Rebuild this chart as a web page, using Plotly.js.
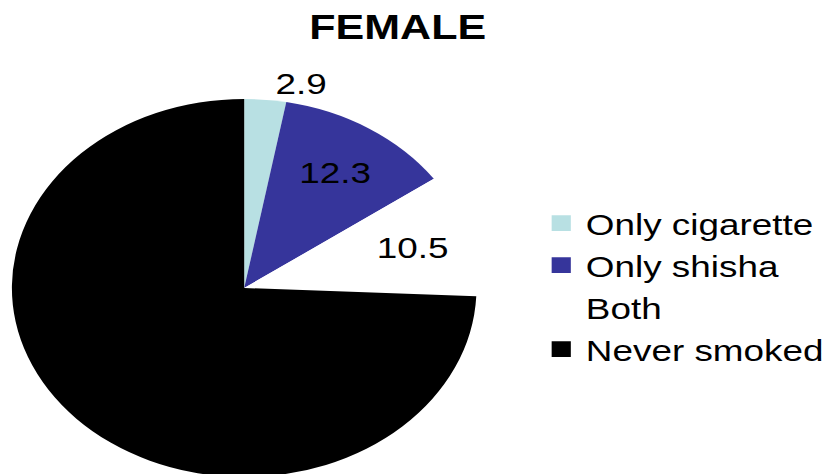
<!DOCTYPE html>
<html><head><meta charset="utf-8">
<script src="https://cdn.plot.ly/plotly-3.0.1.min.js"></script>
<style>
html,body{margin:0;padding:0;overflow:hidden;background:#fff;width:832px;height:474px;}
#wrap{width:832px;height:474px;overflow:hidden;position:relative;}
#chart{width:677px;height:490px;transform:scaleX(1.229);transform-origin:0 0;}
#chart .legend .legendpoints path{transform:translate(20px,0px) scale(1.3);}
</style></head><body><div id="wrap"><div id="chart"></div></div>
<script>
const categories = ['Only cigarette', 'Only shisha', 'Both', 'Never smoked'];
const values = [2.9, 12.3, 10.5, 74.3];
const labelText = ['2.9', '12.3', '10.5', ''];
const colors = ['#b8e0e3', '#36359b', '#ffffff', '#000000'];
const textPos = ['outside', 'inside', 'inside', 'none'];

const FONT = 'Liberation Sans, Arial, sans-serif';
const trace = {
  type: 'pie',
  labels: categories,
  values: values,
  text: labelText,
  textinfo: 'text',
  textposition: textPos,
  insidetextorientation: 'horizontal',
  textfont: {family: FONT, size: 30, color: '#000000'},
  outsidetextfont: {family: FONT, size: 30, color: '#000000'},
  insidetextfont: {family: FONT, size: 30, color: '#000000'},
  marker: {colors: colors, line: {width: 0}},
  sort: false,
  direction: 'clockwise',
  rotation: 0,
  hoverinfo: 'skip',
  automargin: false,
  domain: {x: [0.0143, 0.5727], y: [0.0265, 0.798]}
};
const layout = {
  width: 677, height: 490,
  margin: {l: 0, r: 0, t: 0, b: 0, autoexpand: false},
  paper_bgcolor: '#ffffff',
  title: {text: '<b>FEMALE</b>', font: {family: FONT, size: 35, color: '#000000'},
          x: 0.478, xanchor: 'center', xref: 'paper', y: 1 - 27/490, yanchor: 'middle', yref: 'container'},
  showlegend: true,
  legend: {x: 0.645, xanchor: 'left', y: 0.416, yanchor: 'middle',
           font: {family: FONT, size: 30, color: '#000000'},
           bgcolor: 'rgba(0,0,0,0)', borderwidth: 0, traceorder: 'normal'}
};
Plotly.newPlot('chart', [trace], layout, {displayModeBar: false, staticPlot: true});
</script></body></html>
